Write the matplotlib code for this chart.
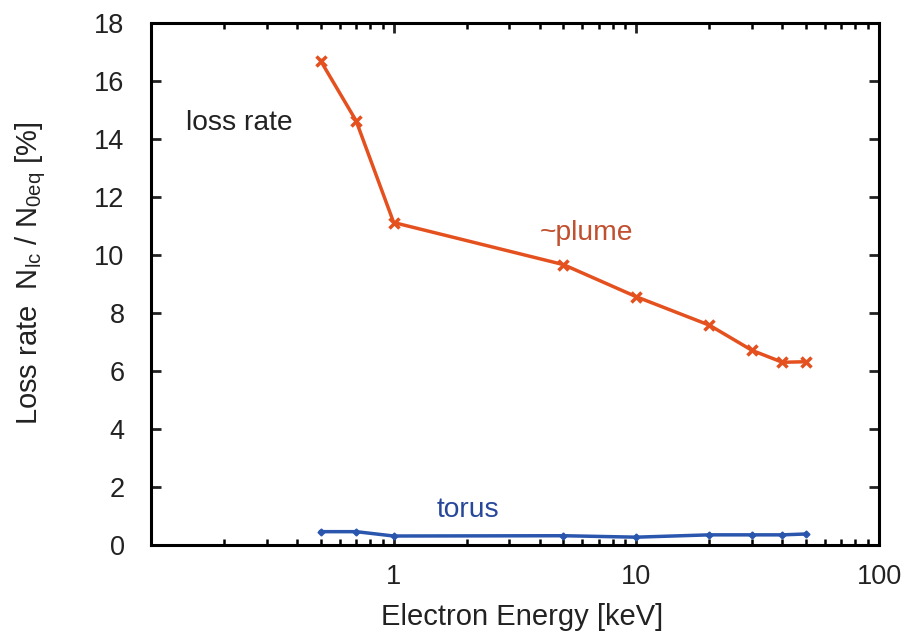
import matplotlib
matplotlib.use("Agg")
import matplotlib.pyplot as plt
from matplotlib.ticker import LogLocator, FixedLocator, NullFormatter

plt.rcParams['font.family'] = ['Liberation Sans', 'DejaVu Sans']
plt.rcParams['mathtext.default'] = 'regular'

energy = [0.5, 0.7, 1, 5, 10, 20, 30, 40, 50]
plume = [16.70, 14.63, 11.12, 9.67, 8.56, 7.58, 6.71, 6.30, 6.32]
torus = [0.46, 0.46, 0.31, 0.32, 0.27, 0.35, 0.35, 0.35, 0.38]
y_ticks = [0, 2, 4, 6, 8, 10, 12, 14, 16, 18]
x_ticks = [1, 10, 100]
x_ticklabels = ["1", "10", "100"]

fig = plt.figure(figsize=(9.05, 6.42), dpi=100)
ax = fig.add_axes([151/905, 1-545/642, (879-151)/905, (545-23)/642])

plume_line = '#E5501F'
torus_line = '#2A56AE'

ax.plot(energy, plume, color=plume_line, lw=2.5, marker='x', ms=7, mew=2.5)
ax.plot(energy, torus, color=torus_line, lw=2.5, marker='D', ms=3.5)

ax.set_xscale('log')
ax.set_xlim(0.1, 100)
ax.set_ylim(0, 18)
ax.xaxis.set_major_locator(FixedLocator(x_ticks))
ax.set_xticklabels(x_ticklabels)
ax.xaxis.set_minor_locator(LogLocator(base=10, subs=range(2, 10)))
ax.xaxis.set_minor_formatter(NullFormatter())
ax.set_yticks(y_ticks)

for s in ax.spines.values():
    s.set_linewidth(2.2)
ax.tick_params(axis='both', which='major', direction='in', length=7, width=2,
               top=True, right=True, labelsize=19.5, colors='#222222')
ax.tick_params(axis='both', which='minor', direction='in', length=4, width=1.8,
               top=True, right=True)
ax.tick_params(axis='x', which='major', pad=14)
ax.tick_params(axis='y', which='major', pad=19)

ax.set_xlabel('Electron Energy [keV]', fontsize=21, color='#222222')
ax.xaxis.set_label_coords(0.51, -0.111)
ax.set_ylabel('Loss rate  N$_{lc}$ / N$_{0eq}$ [%]', fontsize=21, color='#222222')
ax.yaxis.set_label_coords(-0.141, 0.52)

ax.text(0.048, 0.808, 'loss rate', transform=ax.transAxes, fontsize=20.3,
        color='#222222', va='center', ha='left')
ax.text(0.534, 0.597, '~plume', transform=ax.transAxes, fontsize=20.3,
        color='#C0502F', va='center', ha='left')
ax.text(0.393, 0.068, 'torus', transform=ax.transAxes, fontsize=20.3,
        color='#27489A', va='center', ha='left')

fig.savefig('out.png', dpi=100)
